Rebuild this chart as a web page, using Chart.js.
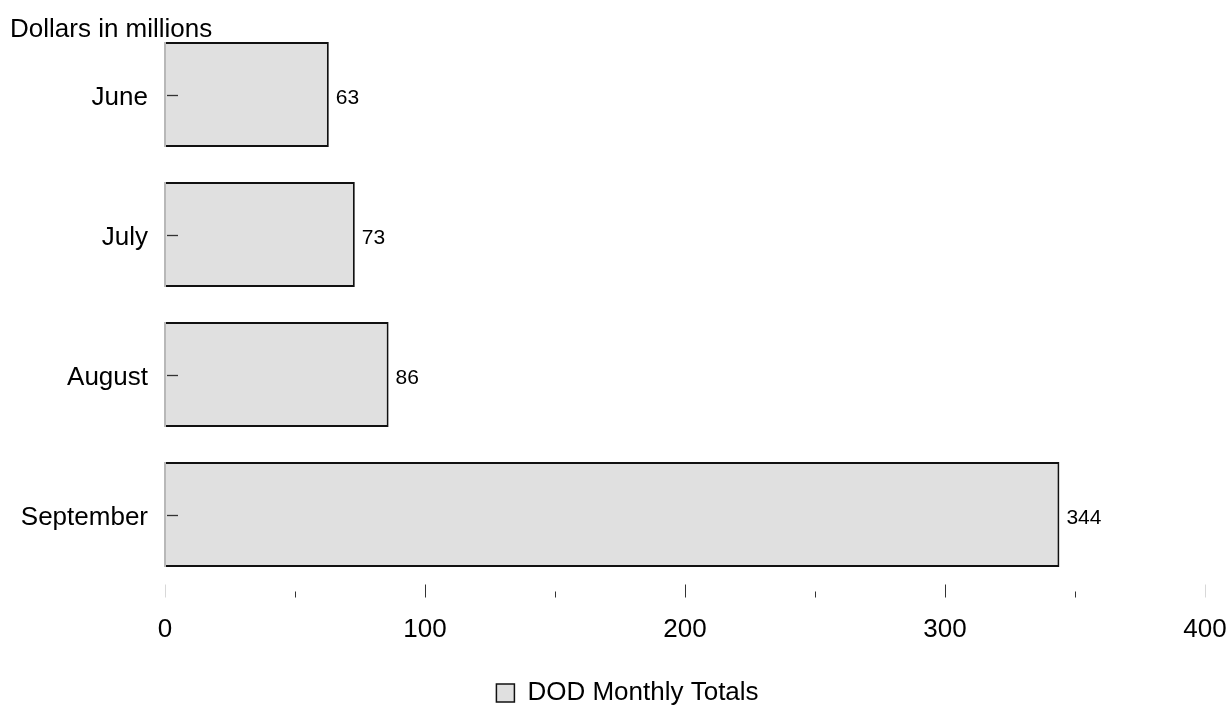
<!DOCTYPE html>
<html>
<head>
<meta charset="utf-8">
<script src="https://cdn.jsdelivr.net/npm/chart.js@4.4.1/dist/chart.umd.min.js"></script>
<style>
  html, body { margin: 0; padding: 0; background: #ffffff; }
  #wrap { width: 1229px; height: 711px; }
</style>
</head>
<body>
<div id="wrap"><canvas id="dod-chart"></canvas></div>
<script>
    "use strict";
    const months = ["June", "July", "August", "September"];
    const totals = [63, 73, 86, 344];
    const xTicks = [0, 100, 200, 300, 400];
    const minorTicks = [50, 150, 250, 350];
    const seriesName = "DOD Monthly Totals";
    const unitLabel = "Dollars in millions";

    const fontFamily = "Arial, 'Liberation Sans', Helvetica, sans-serif";

    // extra drawing: axis ticks inside/outside, bar left edges, value labels, unit label
    const decorations = {
        id: "decorations",
        afterLayout(chart) {
            // legend sits a little right of the page centre
            chart.legend.left += 13;
            chart.legend.right += 13;
        },
        afterDatasetsDraw(chart) {
            const ctx = chart.ctx;
            const x = chart.scales.x;
            const y = chart.scales.y;
            const area = chart.chartArea;
            const meta = chart.getDatasetMeta(0);
            ctx.save();

            // light left edge on each bar
            ctx.strokeStyle = "#b8b8b8";
            ctx.lineWidth = 2;
            meta.data.forEach(function (bar) {
                const half = bar.height / 2;
                ctx.beginPath();
                ctx.moveTo(bar.base, bar.y - half);
                ctx.lineTo(bar.base, bar.y + half);
                ctx.stroke();
            });

            // y ticks, drawn into the bars
            ctx.strokeStyle = "#333333";
            ctx.lineWidth = 1.3;
            months.forEach(function (m, i) {
                const py = Math.round(y.getPixelForValue(i)) + 0.5;
                ctx.beginPath();
                ctx.moveTo(x.getPixelForValue(0) + 2, py);
                ctx.lineTo(x.getPixelForValue(0) + 13, py);
                ctx.stroke();
            });

            // x ticks, major and minor
            ctx.lineWidth = 1;
            xTicks.forEach(function (v, i) {
                const px = Math.round(x.getPixelForValue(v)) + 0.5;
                ctx.strokeStyle = (i === 0 || i === xTicks.length - 1) ? "#d8d8d8" : "#333333";
                ctx.beginPath();
                ctx.moveTo(px, area.bottom);
                ctx.lineTo(px, area.bottom + 13);
                ctx.stroke();
            });
            ctx.strokeStyle = "#333333";
            minorTicks.forEach(function (v) {
                const px = Math.round(x.getPixelForValue(v)) + 0.5;
                ctx.beginPath();
                ctx.moveTo(px, area.bottom + 7);
                ctx.lineTo(px, area.bottom + 13);
                ctx.stroke();
            });

            // value labels
            ctx.fillStyle = "#000000";
            ctx.font = "21px " + fontFamily;
            ctx.textAlign = "left";
            ctx.textBaseline = "middle";
            meta.data.forEach(function (bar, i) {
                ctx.fillText(String(totals[i]), bar.x + 7, bar.y + 4);
            });

            // unit label
            ctx.font = "26px " + fontFamily;
            ctx.textBaseline = "alphabetic";
            ctx.fillText(unitLabel, 10, 37);
            ctx.restore();
        }
    };

    const ctx1 = document.getElementById("dod-chart").getContext("2d");
    const myChart1 = new Chart(ctx1, {
        type: "bar",
        data: {
            labels: months,
            datasets: [{
                label: seriesName,
                data: totals,
                backgroundColor: "#e0e0e0",
                borderColor: "#111111",
                borderWidth: 2,
                borderSkipped: "start",
                categoryPercentage: 0.75,
                barPercentage: 1.0
            }]
        },
        options: {
            indexAxis: "y",
            responsive: true,
            maintainAspectRatio: false,
            animation: false,
            layout: { padding: { top: 24.5, right: 0, left: 0, bottom: -5 } },
            scales: {
                x: {
                    min: 0,
                    max: 400,
                    afterBuildTicks: function (scale) {
                        scale.ticks = xTicks.map(function (v) { return { value: v }; });
                    },
                    afterFit: function (scale) {
                        scale.height = 85.5;
                        scale.paddingLeft = 0;
                        scale.paddingRight = 24;
                    },
                    grid: { display: false, drawTicks: false },
                    border: { display: false },
                    ticks: {
                        padding: 30,
                        color: "#000000",
                        font: { size: 26, family: fontFamily },
                        maxRotation: 0
                    }
                },
                y: {
                    afterFit: function (scale) {
                        scale.width = 165;
                        scale.paddingTop = 0;
                        scale.paddingBottom = 0;
                    },
                    grid: { display: false, drawTicks: false },
                    border: { display: false },
                    ticks: {
                        padding: 17,
                        labelOffset: 3,
                        color: "#000000",
                        font: { size: 26, family: fontFamily }
                    }
                }
            },
            plugins: {
                tooltip: { enabled: false },
                legend: {
                    position: "bottom",
                    labels: {
                        color: "#000000",
                        font: { size: 26, family: fontFamily },
                        boxWidth: 18,
                        boxHeight: 18,
                        padding: 10,
                        generateLabels: function () {
                            return [{
                                text: seriesName,
                                fillStyle: "#e0e0e0",
                                strokeStyle: "#111111",
                                lineWidth: 1.5,
                                datasetIndex: 0
                            }];
                        }
                    }
                }
            }
        },
        plugins: [decorations]
    });
</script>
</body>
</html>
